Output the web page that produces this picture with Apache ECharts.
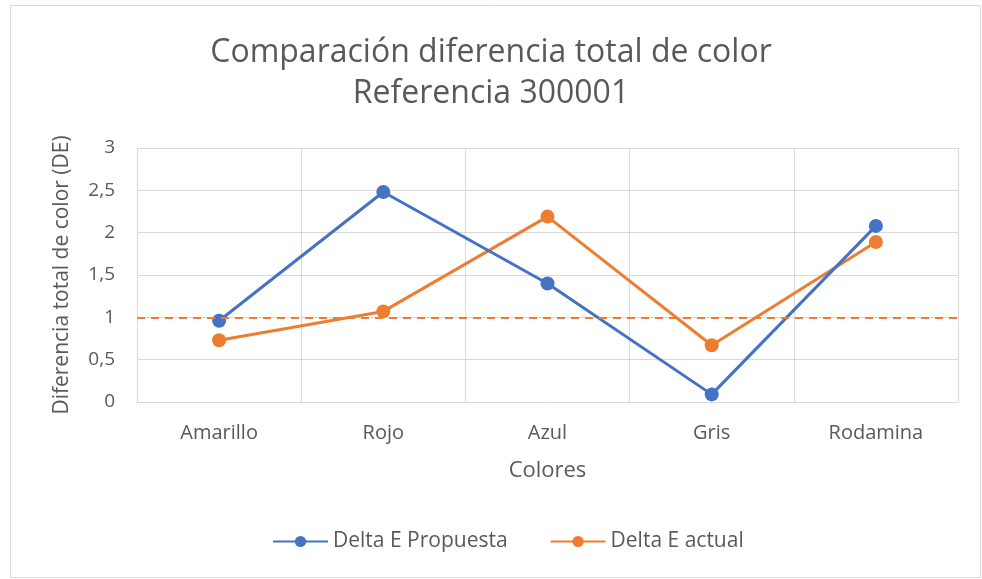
<!DOCTYPE html>
<html>
<head>
<meta charset="utf-8">
<script src="https://cdn.jsdelivr.net/npm/echarts@6/dist/echarts.min.js"></script>
<style>
  html, body { margin: 0; padding: 0; background: #ffffff; }
  #chart { width: 982px; height: 579px; }
</style>
</head>
<body>
<div id="chart"></div>
<script>
// Colour categories and the two Delta E series
const categories = ['Amarillo', 'Rojo', 'Azul', 'Gris', 'Rodamina'];
const deltaPropuesta = [0.96, 2.48, 1.40, 0.09, 2.08];
const deltaActual = [0.73, 1.07, 2.19, 0.67, 1.89];
const toleranceValue = 1;
const yTicks = { min: 0, max: 3, interval: 0.5 };

const textColor = '#595959';
const fontFamily = '"Open Sans", "Noto Sans", sans-serif';

const chart = echarts.init(document.getElementById('chart'));

chart.setOption({
  backgroundColor: '#ffffff',
  textStyle: { fontFamily: fontFamily, color: textColor },
  graphic: [{
    type: 'rect',
    shape: { x: 10.5, y: 5.5, width: 970, height: 572 },
    style: { fill: 'none', stroke: '#d9d9d9', lineWidth: 1 },
    silent: true
  }],
  title: {
    text: 'Comparación diferencia total de color\nReferencia 300001',
    left: 'center',
    top: 27,
    textStyle: {
      fontFamily: fontFamily,
      fontWeight: 'normal',
      fontSize: 32,
      color: textColor,
      lineHeight: 41
    }
  },
  legend: {
    bottom: 22,
    left: 267,
    itemWidth: 55,
    itemHeight: 14,
    itemGap: 42,
    textStyle: { fontFamily: fontFamily, fontSize: 21, color: textColor },
    data: ['Delta E Propuesta', 'Delta E actual']
  },
  grid: { left: 137, right: 24, top: 148, bottom: 177 },
  xAxis: {
    type: 'category',
    data: categories,
    boundaryGap: true,
    name: 'Colores',
    nameLocation: 'middle',
    nameGap: 58,
    nameTextStyle: { fontFamily: fontFamily, fontSize: 22, color: textColor },
    axisLine: { lineStyle: { color: '#d9d9d9', width: 1 } },
    axisTick: { show: false },
    axisLabel: { fontFamily: fontFamily, fontSize: 20, color: textColor, margin: 21 },
    splitLine: { show: true, lineStyle: { color: '#d9d9d9', width: 1 } }
  },
  yAxis: {
    type: 'value',
    min: yTicks.min,
    max: yTicks.max,
    interval: yTicks.interval,
    name: 'Diferencia total de color (DE)',
    nameLocation: 'middle',
    nameGap: 64,
    nameTextStyle: { fontFamily: fontFamily, fontSize: 21, color: textColor },
    axisLine: { show: false },
    axisTick: { show: false },
    axisLabel: {
      fontFamily: fontFamily,
      fontSize: 19,
      color: textColor,
      margin: 22,
      formatter: v => String(v).replace('.', ',')
    },
    splitLine: { lineStyle: { color: '#d9d9d9', width: 1 } }
  },
  series: [
    {
      name: 'Delta E Propuesta',
      type: 'line',
      data: deltaPropuesta,
      symbol: 'circle',
      symbolSize: 14,
      lineStyle: { color: '#4472C4', width: 3 },
      itemStyle: { color: '#4472C4' },
      z: 3,
      markLine: {
        silent: true,
        symbol: ['none', 'none'],
        label: { show: false },
        lineStyle: { color: '#ED7D31', type: [8, 6], width: 2 },
        data: [{ yAxis: toleranceValue }]
      }
    },
    {
      name: 'Delta E actual',
      type: 'line',
      data: deltaActual,
      symbol: 'circle',
      symbolSize: 14,
      lineStyle: { color: '#ED7D31', width: 3 },
      itemStyle: { color: '#ED7D31' },
      z: 2
    }
  ],
  animation: false
});
</script>
</body>
</html>
